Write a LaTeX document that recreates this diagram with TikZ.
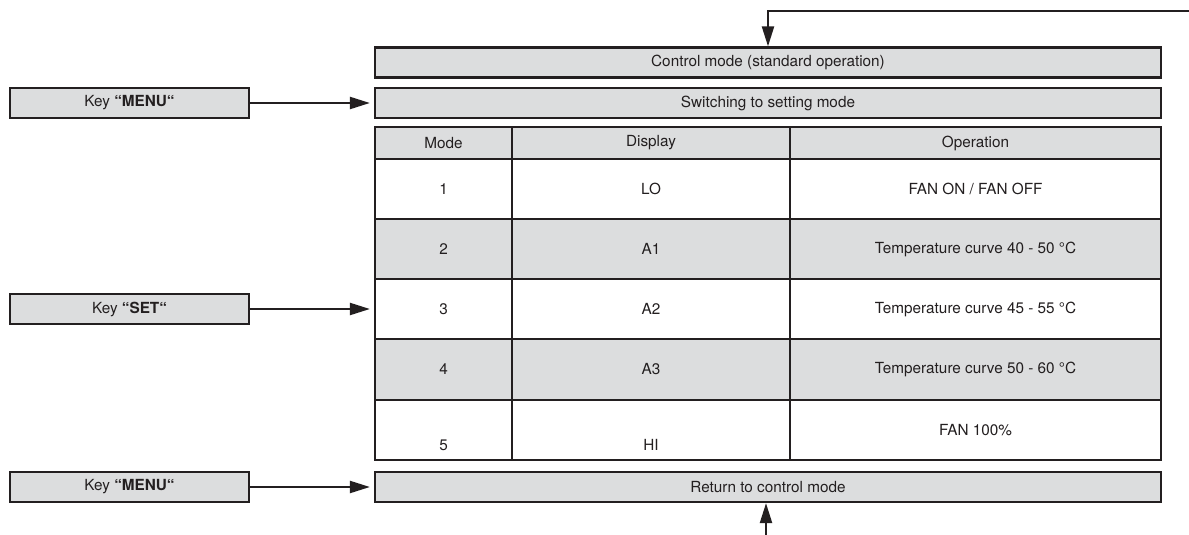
\documentclass[tikz,border=0pt]{standalone}
\usepackage{fontspec}
\setmainfont{TeX Gyre Heros}
\usetikzlibrary{arrows.meta}
\definecolor{ink}{HTML}{231F20}
\definecolor{boxgray}{HTML}{DCDDDE}
\begin{document}
\begin{tikzpicture}[x=1pt,y=-1pt,
  every node/.style={font=\fontsize{15.3}{18}\selectfont, text=ink},
  box/.style={draw=ink, line width=2.2pt, fill=boxgray, rectangle, inner sep=0pt},
  cellw/.style={draw=ink, line width=2.2pt, fill=white, rectangle, inner sep=0pt},
  cellg/.style={box},
  conn/.style={draw=ink, line width=2.2pt, -{Triangle[length=20pt,width=12pt]}},
  lbl/.style={inner sep=0pt}
]
\useasboundingbox (0,0) rectangle (1189,535);
% left keys
\node[box, minimum width=239pt, minimum height=30pt] (k1) at (129.5,103) {Key \textbf{“MENU“}};
\node[box, minimum width=239pt, minimum height=30pt] (k2) at (129.5,309) {Key \textbf{“SET“}};
\node[box, minimum width=239pt, minimum height=30pt] (k3) at (129.5,487) {Key \textbf{“MENU“}};
% main boxes
\node[box, minimum width=786pt, minimum height=30pt] (ctrl) at (768,62.5) {Control mode (standard operation)};
\node[box, minimum width=786pt, minimum height=30pt] (sw) at (768,103) {Switching to setting mode};
\node[box, minimum width=786pt, minimum height=30pt] (ret) at (768,487) {Return to control mode};
% table header
\node[cellg, minimum width=137pt, minimum height=32pt] (h1) at (443.5,143) {Mode};
\node[cellg, minimum width=278pt, minimum height=32pt] (h2) at (651,143) {Display};
\node[cellg, minimum width=371pt, minimum height=32pt] (h3) at (975.5,143) {Operation};
% row 1
\node[cellw, minimum width=137pt, minimum height=60pt] (a1) at (443.5,189) {1};
\node[cellw, minimum width=278pt, minimum height=60pt] (b1) at (651,189) {LO};
\node[cellw, minimum width=371pt, minimum height=60pt] (c1) at (975.5,189) {FAN ON / FAN OFF};
% row 2
\node[cellg, minimum width=137pt, minimum height=60pt] (a2) at (443.5,249) {2};
\node[cellg, minimum width=278pt, minimum height=60pt] (b2) at (651,249) {A1};
\node[cellg, minimum width=371pt, minimum height=60pt] (c2) at (975.5,249) {Temperature curve 40 - 50 °C};
% row 3
\node[cellw, minimum width=137pt, minimum height=60pt] (a3) at (443.5,309) {3};
\node[cellw, minimum width=278pt, minimum height=60pt] (b3) at (651,309) {A2};
\node[cellw, minimum width=371pt, minimum height=60pt] (c3) at (975.5,309) {Temperature curve 45 - 55 °C};
% row 4
\node[cellg, minimum width=137pt, minimum height=61pt] (a4) at (443.5,369.5) {4};
\node[cellg, minimum width=278pt, minimum height=61pt] (b4) at (651,369.5) {A3};
\node[cellg, minimum width=371pt, minimum height=61pt] (c4) at (975.5,369.5) {Temperature curve 50 - 60 °C};
% row 5
\node[cellw, minimum width=137pt, minimum height=60pt] (a5) at (443.5,430) {};
\node[cellw, minimum width=278pt, minimum height=60pt] (b5) at (651,430) {};
\node[cellw, minimum width=371pt, minimum height=60pt] (c5) at (975.5,430) {FAN 100\%};
\node[lbl] (t5a) at (443.5,445) {5};
\node[lbl] (t5b) at (651,445) {HI};
% connectors
\draw[conn, shorten >=4pt] (k1.east) -- (sw.west);
\draw[conn, shorten >=4pt] (k2.east) -- (a3.west);
\draw[conn, shorten >=4pt] (k3.east) -- (ret.west);
\coordinate (tr) at (1189,11);
\coordinate (br) at (766,535);
\draw[conn] (tr) -| (ctrl.north);
\draw[conn] (br) -- (br |- ret.south);
\end{tikzpicture}
\end{document}
